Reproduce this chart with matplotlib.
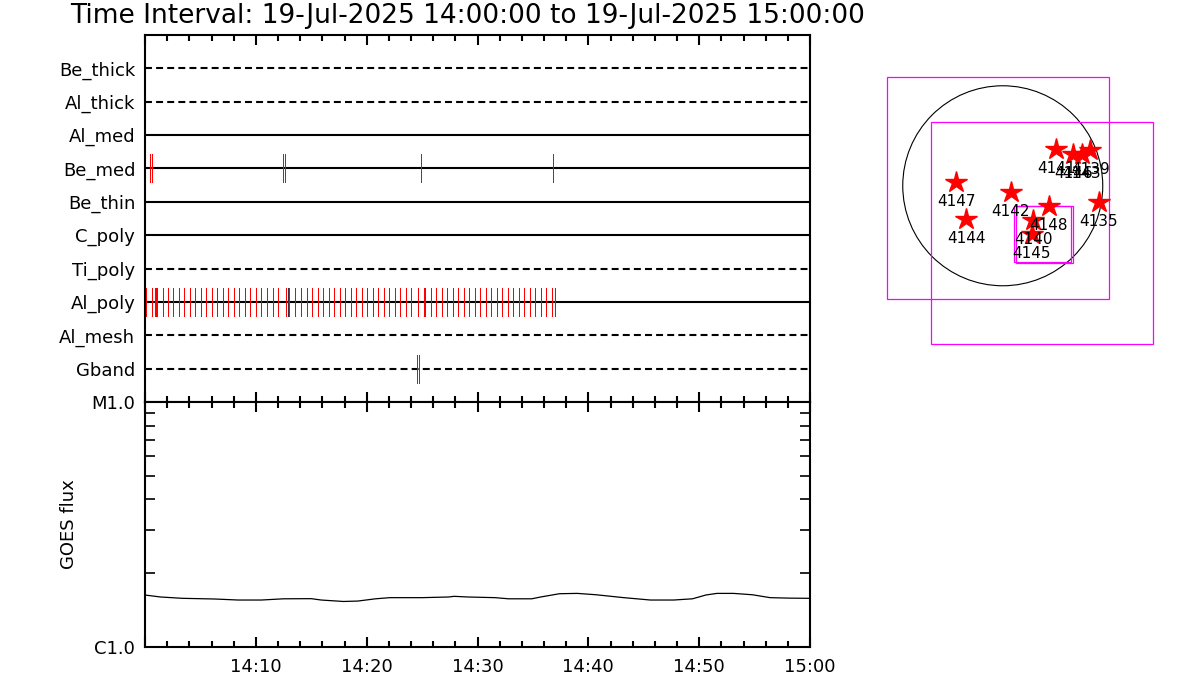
import matplotlib
matplotlib.use("Agg")
import matplotlib.pyplot as plt
import numpy as np
from matplotlib.patches import Circle, Rectangle

# filter rows, top to bottom, and whether the row line is dashed
filters = ['Be_thick', 'Al_thick', 'Al_med', 'Be_med', 'Be_thin',
           'C_poly', 'Ti_poly', 'Al_poly', 'Al_mesh', 'Gband']
dashed = [True, True, False, False, False, False, True, False, True, True]

# observation times (minutes after 14:00) per filter
be_med_times = [0.48, 0.66, 12.48, 12.66, 24.93, 36.84]
gband_times = [24.58, 24.76]
al_poly_times = [0.05, 0.60, 0.87, 0.96, 1.05, 1.59, 2.08, 2.56, 3.07, 3.55,
                 4.06, 4.54, 5.05, 5.53, 6.05, 6.53, 7.04, 7.52, 8.03, 8.51,
                 9.02, 9.50, 10.02, 10.50, 11.01, 11.52, 12.00, 12.70, 13.03,
                 13.54, 14.08, 14.59, 15.10, 15.61, 16.09, 16.57, 17.08, 17.56,
                 18.08, 18.56, 19.07, 19.55, 20.06, 20.54, 21.05, 21.53, 22.05,
                 22.53, 23.04, 23.52, 24.03, 24.63, 25.14, 25.23, 25.29, 25.77,
                 26.26, 26.77, 27.25, 27.76, 28.24, 28.75, 29.23, 29.74, 30.23,
                 30.74, 31.22, 31.73, 32.21, 32.72, 33.20, 33.71, 34.23, 34.71,
                 35.22, 35.70, 36.21, 36.75, 37.02]
al_poly_dark = [12.88]

# GOES flux curve (minutes after 14:00, W/m^2)
goes_min = [0, 1.4, 3.4, 6.3, 8.4, 10.5, 12.5, 15.0, 15.9, 17.9, 19.2, 20.8,
            22.1, 25.0, 27.4, 27.9, 29.1, 31.6, 32.8, 34.9, 35.7, 37.4, 39.0,
            40.7, 43.2, 45.6, 47.7, 49.4, 50.6, 51.6, 53.1, 54.8, 56.4, 58.1, 60]
goes_flux = [1.63, 1.60, 1.58, 1.57, 1.555, 1.555, 1.573, 1.575, 1.555, 1.534,
             1.54, 1.573, 1.59, 1.59, 1.60, 1.61, 1.60, 1.59, 1.573, 1.573,
             1.60, 1.65, 1.655, 1.634, 1.59, 1.555, 1.555, 1.573, 1.63, 1.655,
             1.655, 1.634, 1.59, 1.583, 1.58]

xtick_min = [0, 10, 20, 30, 40, 50, 60]
xtick_labels = ['', '14:10', '14:20', '14:30', '14:40', '14:50', '15:00']

# solar map (arcsec)
r_sun = 945
ar_names = ['4147', '4144', '4142', '4148', '4140', '4145', '4135',
            '4141', '4146', '4143', '4139']
ar_x = [-441, -347, 76, 435, 289, 274, 907, 505, 667, 747, 826]
ar_y = [33, -314, -61, -194, -323, -455, -150, 348, 300, 300, 342]
fov_x = [-42, 374, 376, 393]
fov_y = [-24, -447, -455, -460]
fov_size = [2098, 2098, 533, 535]

plt.rcParams['font.family'] = 'DejaVu Sans'
plt.rcParams['lines.scale_dashes'] = False

fig = plt.figure(figsize=(12, 7), dpi=100)
ax1 = fig.add_axes([145/1200, 1-402/700, 665/1200, 367/700])
ax2 = fig.add_axes([145/1200, 1-647/700, 665/1200, 245/700])
ax3 = fig.add_axes([880/1200, 1-350/700, 280/1200, 280/700])

# --- filter timeline
ypos = np.arange(len(filters), 0, -1)
for name, y, d in zip(filters, ypos, dashed):
    ls = (0, (5, 3)) if d else '-'
    ax1.plot([0, 60], [y, y], color='black', lw=1.5, ls=ls, zorder=2)

def ticks(times, y, color='red'):
    ax1.vlines(times, y - 0.42, y + 0.42, color=color, lw=0.72, zorder=3,
               antialiased=False)

ticks(be_med_times, ypos[filters.index('Be_med')])
ticks(gband_times, ypos[filters.index('Gband')])
ticks(al_poly_times, ypos[filters.index('Al_poly')])
ticks(al_poly_dark, ypos[filters.index('Al_poly')], color='#303048')

ax1.set_xlim(0, 60)
ax1.set_ylim(0, 11)
ax1.set_yticks(ypos)
ax1.set_yticklabels(filters, fontsize=13)
ax1.tick_params(axis='y', length=0, pad=7)
ax1.set_xticks(xtick_min)
ax1.set_xticks(np.arange(0, 61, 2), minor=True)
ax1.tick_params(axis='x', which='both', direction='in', top=True, bottom=True,
                labelbottom=False, width=1.5)
ax1.tick_params(axis='x', which='major', length=7)
ax1.tick_params(axis='x', which='minor', length=4)

# --- GOES panel
ax2.plot(goes_min, np.array(goes_flux) * 1e-6, color='black', lw=0.9)
ax2.set_yscale('log')
ax2.set_ylim(1e-6, 1e-5)
ax2.set_xlim(0, 60)
ax2.set_yticks([1e-6, 1e-5])
ax2.set_yticklabels(['C1.0', 'M1.0'], fontsize=13)
ax2.tick_params(axis='y', which='major', length=0, pad=7)
ax2.tick_params(axis='y', which='minor', direction='in', left=True, right=True,
                length=7, width=1.2, labelleft=False)
ax2.set_xticks(xtick_min)
ax2.set_xticklabels(xtick_labels, fontsize=13)
ax2.set_xticks(np.arange(0, 61, 2), minor=True)
ax2.tick_params(axis='x', which='both', direction='in', top=True, bottom=True,
                width=1.5, pad=8)
ax2.tick_params(axis='x', which='major', length=7)
ax2.tick_params(axis='x', which='minor', length=4)
ax2.set_ylabel('GOES flux', fontsize=13)
ax2.yaxis.set_label_coords(-0.1, 0.5)

for a in (ax1, ax2):
    for s in a.spines.values():
        s.set_linewidth(1.5)

# --- solar map
ax3.set_xlim(-1160, 1486)
ax3.set_ylim(-1552, 1094)
ax3.set_aspect('equal')
ax3.axis('off')
ax3.add_patch(Circle((0, 0), r_sun, fill=False, color='black', lw=0.8))
for cx, cy, sz in zip(fov_x, fov_y, fov_size):
    ax3.add_patch(Rectangle((cx - sz/2, cy - sz/2), sz, sz, fill=False,
                            edgecolor='magenta', lw=0.9))
ax3.plot(ar_x, ar_y, ls='none', marker='*', color='red', markersize=16)
for n, x, y in zip(ar_names, ar_x, ar_y):
    ax3.text(x, y - 185, n, ha='center', va='center', fontsize=11)

fig.text(70/1200, 1-16/700, 'Time Interval: 19-Jul-2025 14:00:00 to 19-Jul-2025 15:00:00',
         fontsize=19, va='center', ha='left')

fig.savefig('out.png', dpi=100)
